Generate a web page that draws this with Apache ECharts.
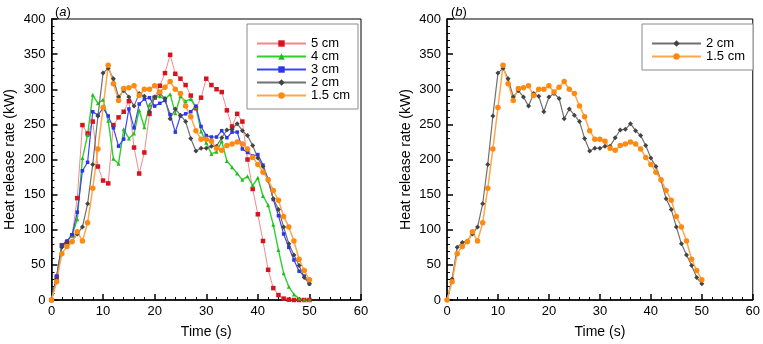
<!DOCTYPE html>
<html><head><meta charset="utf-8">
<script src="https://cdn.jsdelivr.net/npm/echarts@6/dist/echarts.min.js"></script>
<style>html,body{margin:0;padding:0;background:#fff}#c{width:763px;height:344px}</style>
</head><body><div id="c"></div>
<script>
const times = Array.from({length: 51}, (_, i) => i);
const xTicks = [0, 10, 20, 30, 40, 50, 60];
const yTicks = [0, 50, 100, 150, 200, 250, 300, 350, 400];
const names = ['5 cm', '4 cm', '3 cm', '2 cm', '1.5 cm'];
const hrr5 = [0,33,78,82,92,145,249,237,254,190,170,166,249,260,268,283,217,180,210,265,288,305,323,349,322,315,306,291,273,288,315,306,300,296,270,247,265,254,200,158,122,84,43,17,7,2,0.5,0,0,0,0];
const hrr4 = [0,33,78,84,92,115,202,235,292,280,285,255,201,194,243,230,237,270,246,278,288,290,286,293,266,290,283,286,274,240,224,208,211,226,198,189,180,171,176,163,174,148,135,107,71,38,19,8,2,0.5,0];
const hrr3 = [0,34,78,84,93,125,184,196,268,263,273,262,245,219,229,272,245,279,286,288,276,280,284,264,239,262,265,268,276,247,234,232,232,241,231,239,239,215,210,205,207,192,172,143,120,94,75,57,41,34,23];
const hrr2 = [0,30,75,82,84,94,104,137,193,262,323,330,315,289,298,289,276,294,290,268,289,294,287,258,272,263,254,230,212,216,216,219,219,231,242,243,251,241,234,220,202,190,170,144,129,104,80,64,49,32,23];
const hrr15 = [0,26,66,76,83,97,84,110,159,215,274,334,308,284,301,302,305,291,300,300,305,296,303,311,300,294,276,261,241,229,229,226,216,213,220,222,225,222,215,203,193,182,171,156,142,119,104,84,58,42,29];

const pairs = arr => times.map((t, i) => [t, arr[i]]);
const FONT = 'Liberation Sans, Arial, Helvetica, sans-serif';
const styles = {
  '5 cm':  {line: '#f08a8a', lw: 1, mk: '#d7141e', sym: 'rect', size: 4.5},
  '4 cm':  {line: '#2ed02e', lw: 1.4, mk: '#22bb22', sym: 'triangle', size: 4},
  '3 cm':  {line: '#3a46f2', lw: 1.2, mk: '#2a36e8', sym: 'rect', size: 3.5},
  '2 cm':  {line: '#707070', lw: 1.2, mk: '#444444', sym: 'diamond', size: 5},
  '1.5 cm':{line: '#ffa64a', lw: 1.5, mk: '#ff8a10', sym: 'circle', size: 5.5}
};
function mkSeries(name, arr, idx) {
  const s = styles[name];
  return {
    name, type: 'line', xAxisIndex: idx, yAxisIndex: idx, data: pairs(arr),
    symbol: s.sym, symbolSize: s.size, showSymbol: true,
    lineStyle: {color: s.line, width: s.lw},
    itemStyle: {color: s.mk, borderWidth: 0},
    animation: false, z: 3
  };
}
function xAxis(idx) {
  return {
    gridIndex: idx, type: 'value', min: 0, max: 60, interval: 10,
    name: 'Time (s)', nameLocation: 'middle', nameGap: 25,
    nameTextStyle: {fontFamily: FONT, fontSize: 14, color: '#000'},
    axisLine: {lineStyle: {color: '#000', width: 1.5}},
    axisTick: {inside: true, length: 6, lineStyle: {color: '#000', width: 1.5}},
    minorTick: {show: true, splitNumber: 5, length: 3, lineStyle: {color: '#000', width: 1}},
    axisLabel: {fontFamily: FONT, fontSize: 13, color: '#000', margin: 5},
    splitLine: {show: false}
  };
}
function yAxis(idx) {
  return {
    gridIndex: idx, type: 'value', min: 0, max: 400, interval: 50,
    name: 'Heat release rate (kW)', nameLocation: 'middle', nameGap: 34,
    nameTextStyle: {fontFamily: FONT, fontSize: 14, color: '#000'},
    axisLine: {lineStyle: {color: '#000', width: 1.5}},
    axisTick: {inside: true, length: 6, lineStyle: {color: '#000', width: 1.5}},
    minorTick: {show: true, splitNumber: 5, length: 3, lineStyle: {color: '#000', width: 1}},
    axisLabel: {fontFamily: FONT, fontSize: 13, color: '#000', margin: 6},
    splitLine: {show: false}
  };
}
function legend(left, data) {
  return {
    data, left, top: 24, orient: 'vertical',
    padding: [13, 8, 7, 9], itemWidth: 49, itemHeight: 8, itemGap: 0,
    borderColor: '#8a8a8a', borderWidth: 1, backgroundColor: '#fff',
    textStyle: {fontFamily: FONT, fontSize: 13, color: '#000', lineHeight: 13},
    selectedMode: false
  };
}
const chart = echarts.init(document.getElementById('c'), null, {renderer: 'canvas'});
chart.setOption({
  animation: false,
  title: [
    {text: '({i|a})', left: 50, top: 1, textStyle: {fontFamily: FONT, fontSize: 13, fontWeight: 'normal', color: '#000', rich: {i: {fontStyle: 'italic', fontFamily: FONT, fontSize: 13}}}},
    {text: '({i|b})', left: 446, top: 1, textStyle: {fontFamily: FONT, fontSize: 13, fontWeight: 'normal', color: '#000', rich: {i: {fontStyle: 'italic', fontFamily: FONT, fontSize: 13}}}}
  ],
  grid: [
    {left: 51.5, top: 19, width: 309.5, height: 282.7, show: true, borderColor: '#000', borderWidth: 1},
    {left: 447, top: 19, width: 310, height: 284, show: true, borderColor: '#000', borderWidth: 1}
  ],
  xAxis: [xAxis(0), xAxis(1)],
  yAxis: [yAxis(0), yAxis(1)],
  legend: [legend(247, names), legend(642, ['2 cm', '1.5 cm'])],
  series: [
    mkSeries('5 cm', hrr5, 0),
    mkSeries('4 cm', hrr4, 0),
    mkSeries('3 cm', hrr3, 0),
    mkSeries('2 cm', hrr2, 0),
    mkSeries('1.5 cm', hrr15, 0),
    mkSeries('2 cm', hrr2, 1),
    mkSeries('1.5 cm', hrr15, 1)
  ]
});
</script></body></html>
